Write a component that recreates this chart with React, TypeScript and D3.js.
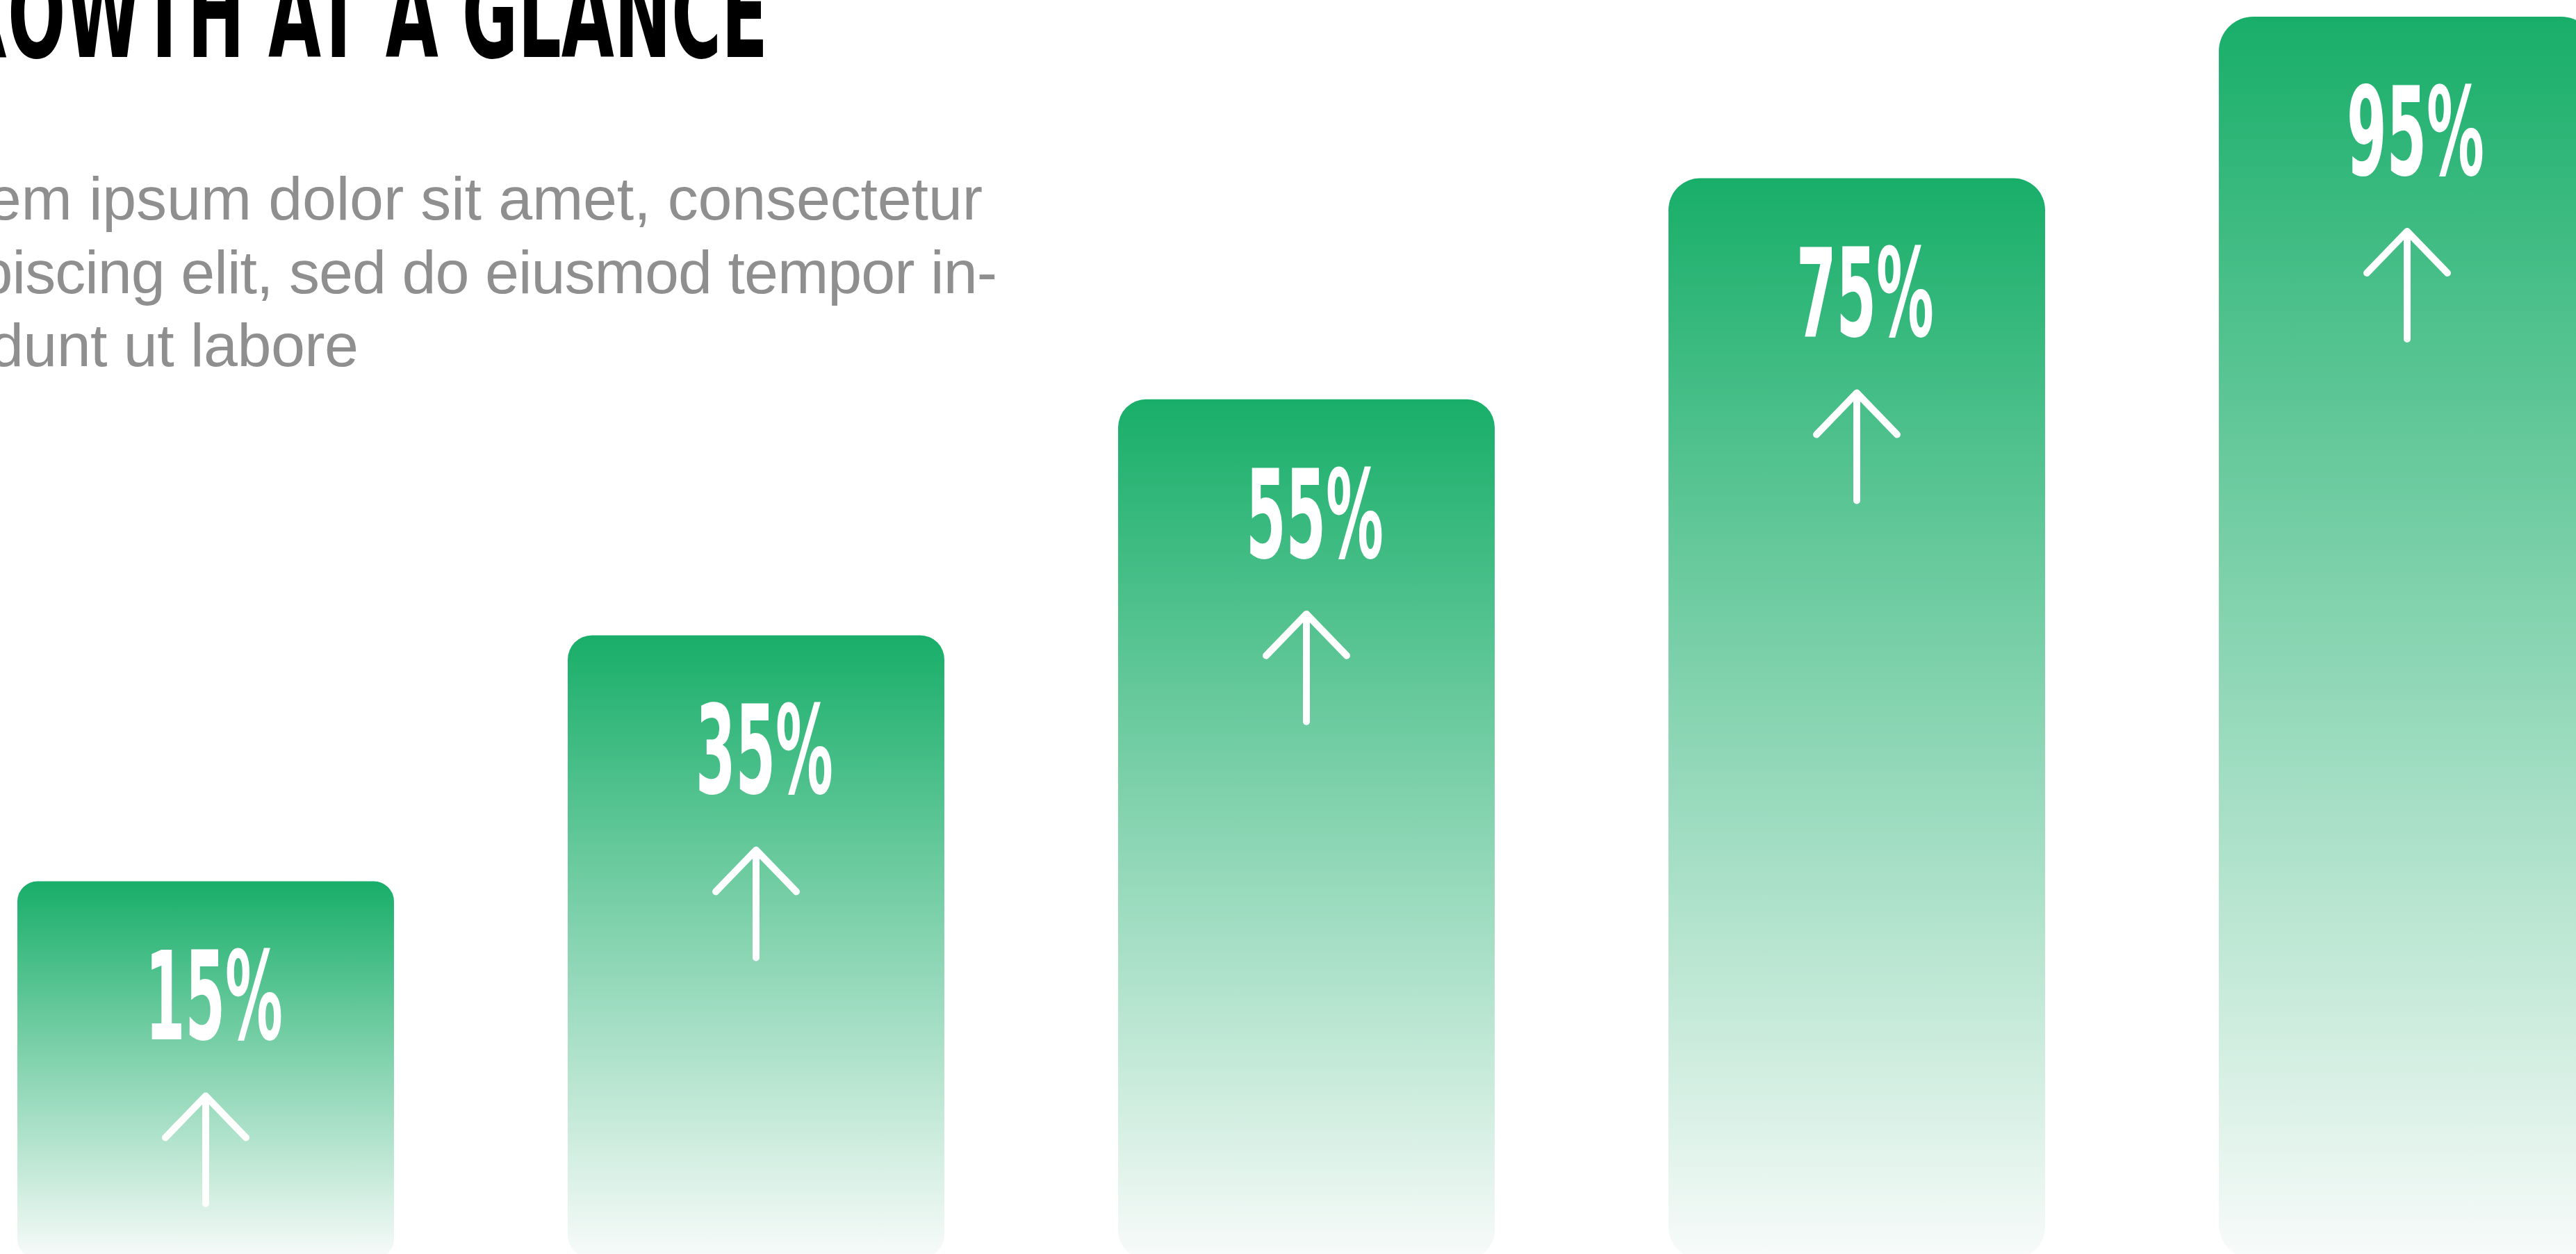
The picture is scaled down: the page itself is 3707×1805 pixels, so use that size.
import React from "react";
import * as d3 from "d3";

// ---- data ----
const categories = ["A", "B", "C", "D", "E"];
const growthLabels = [15, 35, 55, 75, 95]; // printed percentages
const barLevels = [30.4, 50.2, 69.2, 87.0, 100]; // bar heights on a 0–100 canvas scale
const titleText = "GROWTH AT A GLANCE";
const paragraphLines = [
  "Lorem ipsum dolor sit amet, consectetur",
  "adipiscing elit, sed do eiusmod tempor in-",
  "cididunt ut labore",
];

const W = 3707;
const H = 1805;

export default function App() {
  const x = d3
    .scaleBand<string>()
    .domain(categories)
    .range([25, 3735])
    .paddingInner(0.3157)
    .paddingOuter(0);
  const y = d3.scaleLinear().domain([0, 100]).range([1812, 24]);
  const bw = x.bandwidth();

  const condensed =
    "'Liberation Sans Narrow', 'DejaVu Sans Condensed', 'Roboto Condensed', 'Liberation Sans', sans-serif";

  const paraWidths = [1559, 1580, 661];

  return (
    <svg
      width={W}
      height={H}
      viewBox={`0 0 ${W} ${H}`}
      style={{ position: "absolute", left: 0, top: 0, display: "block", background: "#fff" }}
    >
      <defs>
        <linearGradient id="barGrad" x1="0" y1="0" x2="0" y2="1">
          <stop offset="0" stopColor="#18ae69" />
          <stop offset="1" stopColor="#f8fbfa" />
        </linearGradient>
      </defs>
      <rect x={0} y={0} width={W} height={H} fill="#ffffff" />

      {/* title */}
      <text
        x={-145}
        y={82}
        fontFamily={condensed}
        fontWeight={700}
        fontSize={178}
        fill="#000"
        textLength={1250}
        lengthAdjust="spacingAndGlyphs"
      >
        {titleText}
      </text>

      {/* paragraph */}
      {paragraphLines.map((line, i) => (
        <text
          key={i}
          x={-145}
          y={316 + i * 105.5}
          fontFamily="'Liberation Sans', Arial, Helvetica, sans-serif"
          fontSize={88}
          fill="#8f8f8f"
          textLength={paraWidths[i]}
          lengthAdjust="spacing"
        >
          {line}
        </text>
      ))}

      {/* bars */}
      {categories.map((c, i) => {
        const bx = x(c) as number;
        const top = y(barLevels[i]);
        const h = y(0) - top;
        const r = 20 + 0.0165 * h;
        const cx = bx + bw / 2;
        const aTop = top + 309;
        const aBot = aTop + 155;
        return (
          <g key={c}>
            <rect x={bx} y={top} width={bw} height={h} rx={r} ry={r} fill="url(#barGrad)" />
            <text
              x={cx + 12}
              y={top + 228}
              textAnchor="middle"
              fontFamily={condensed}
              fontWeight={700}
              fontSize={177}
              fill="#fff"
              textLength={198}
              lengthAdjust="spacingAndGlyphs"
            >
              {`${growthLabels[i]}%`}
            </text>
            <g stroke="#fff" strokeWidth={10} strokeLinecap="round" strokeLinejoin="round" fill="none">
              <line x1={cx} y1={aTop + 4} x2={cx} y2={aBot} />
              <polyline points={`${cx - 58},${aTop + 60} ${cx},${aTop} ${cx + 58},${aTop + 60}`} />
            </g>
          </g>
        );
      })}
    </svg>
  );
}
